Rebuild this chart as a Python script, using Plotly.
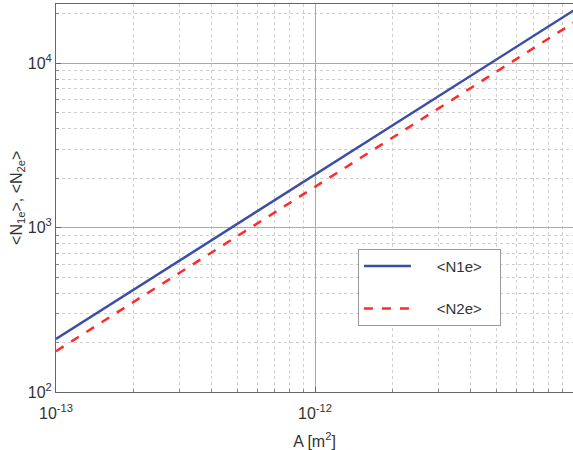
import plotly.graph_objects as go

A = [1e-13, 1e-12, 1e-11]
N1e = [210, 2100, 21000]
N2e = [177, 1770, 17700]

x_tickvals = [1e-13, 1e-12, 1e-11]
x_ticktext = ["10<sup>-13</sup>", "10<sup>-12</sup>", "10<sup>-11</sup>"]
y_tickvals = [1e2, 1e3, 1e4]
y_ticktext = ["10<sup>2</sup>", "10<sup>3</sup>", "10<sup>4</sup>"]

x_minor = [m * 10.0 ** e for e in (-13, -12) for m in range(2, 10)]
y_minor = [m * 10.0 ** e for e in (2, 3, 4) for m in range(2, 10)]

font = dict(family="Liberation Sans, Arial, sans-serif", size=15, color="#333333")
tickfont = dict(family="Liberation Sans, Arial, sans-serif", size=16, color="#333333")
titlefont = dict(family="Liberation Sans, Arial, sans-serif", size=16, color="#333333")

fig = go.Figure()
fig.add_trace(go.Scatter(x=A, y=N1e, mode="lines",
                         name="&nbsp;&nbsp;&nbsp;&nbsp;&nbsp;&lt;N1e&gt;&nbsp;&nbsp;&nbsp;", legendgroup="a",
                         line=dict(color="#3a4ea8", width=2.5)))
fig.add_trace(go.Scatter(x=A, y=N2e, mode="lines",
                         name="&nbsp;&nbsp;&nbsp;&nbsp;&nbsp;&lt;N2e&gt;&nbsp;&nbsp;&nbsp;", legendgroup="b",
                         line=dict(color="#ff2a2a", width=2.5, dash="dash")))


def axis_common(minor_vals):
    return dict(
        type="log", showline=True, linecolor="#666666", linewidth=1, mirror=True,
        ticks="inside", ticklen=5, tickcolor="#666666",
        showgrid=True, gridcolor="#aaaaaa", gridwidth=1, zeroline=False,
        automargin=False,
        minor=dict(tickmode="array", tickvals=minor_vals, ticks="inside", ticklen=3,
                   tickcolor="#888888", showgrid=True,
                   gridcolor="#cfcfcf", griddash="dot", gridwidth=1),
        tickfont=tickfont,
    )


fig.update_layout(
    width=573, height=450,
    margin=dict(l=56, r=0, t=4, b=58),
    paper_bgcolor="white", plot_bgcolor="white",
    font=font,
    xaxis=dict(axis_common(x_minor), ticklabelstandoff=7,
               range=[-13, -11.004], tickvals=x_tickvals, ticktext=x_ticktext,
               title=dict(text="A [m<sup>2</sup>]", font=titlefont)),
    yaxis=dict(axis_common(y_minor),
               range=[2, 4.36], tickvals=y_tickvals, ticktext=y_ticktext),
    annotations=[dict(text="&lt;N<sub>1e</sub>&gt;, &lt;N<sub>2e</sub>&gt;", font=titlefont,
                      xref="paper", yref="paper", x=-0.0755, y=0.5, textangle=-90,
                      showarrow=False, xanchor="center", yanchor="middle")],
    legend=dict(x=0.584, y=0.369, xanchor="left", yanchor="top",
                bgcolor="white", bordercolor="#999999", borderwidth=1,
                font=font, tracegroupgap=20, traceorder="grouped",
                itemwidth=47),
    showlegend=True,
)

fig.write_html("out.html", config={"displayModeBar": False},
               post_script="document.body.style.margin='0';")
